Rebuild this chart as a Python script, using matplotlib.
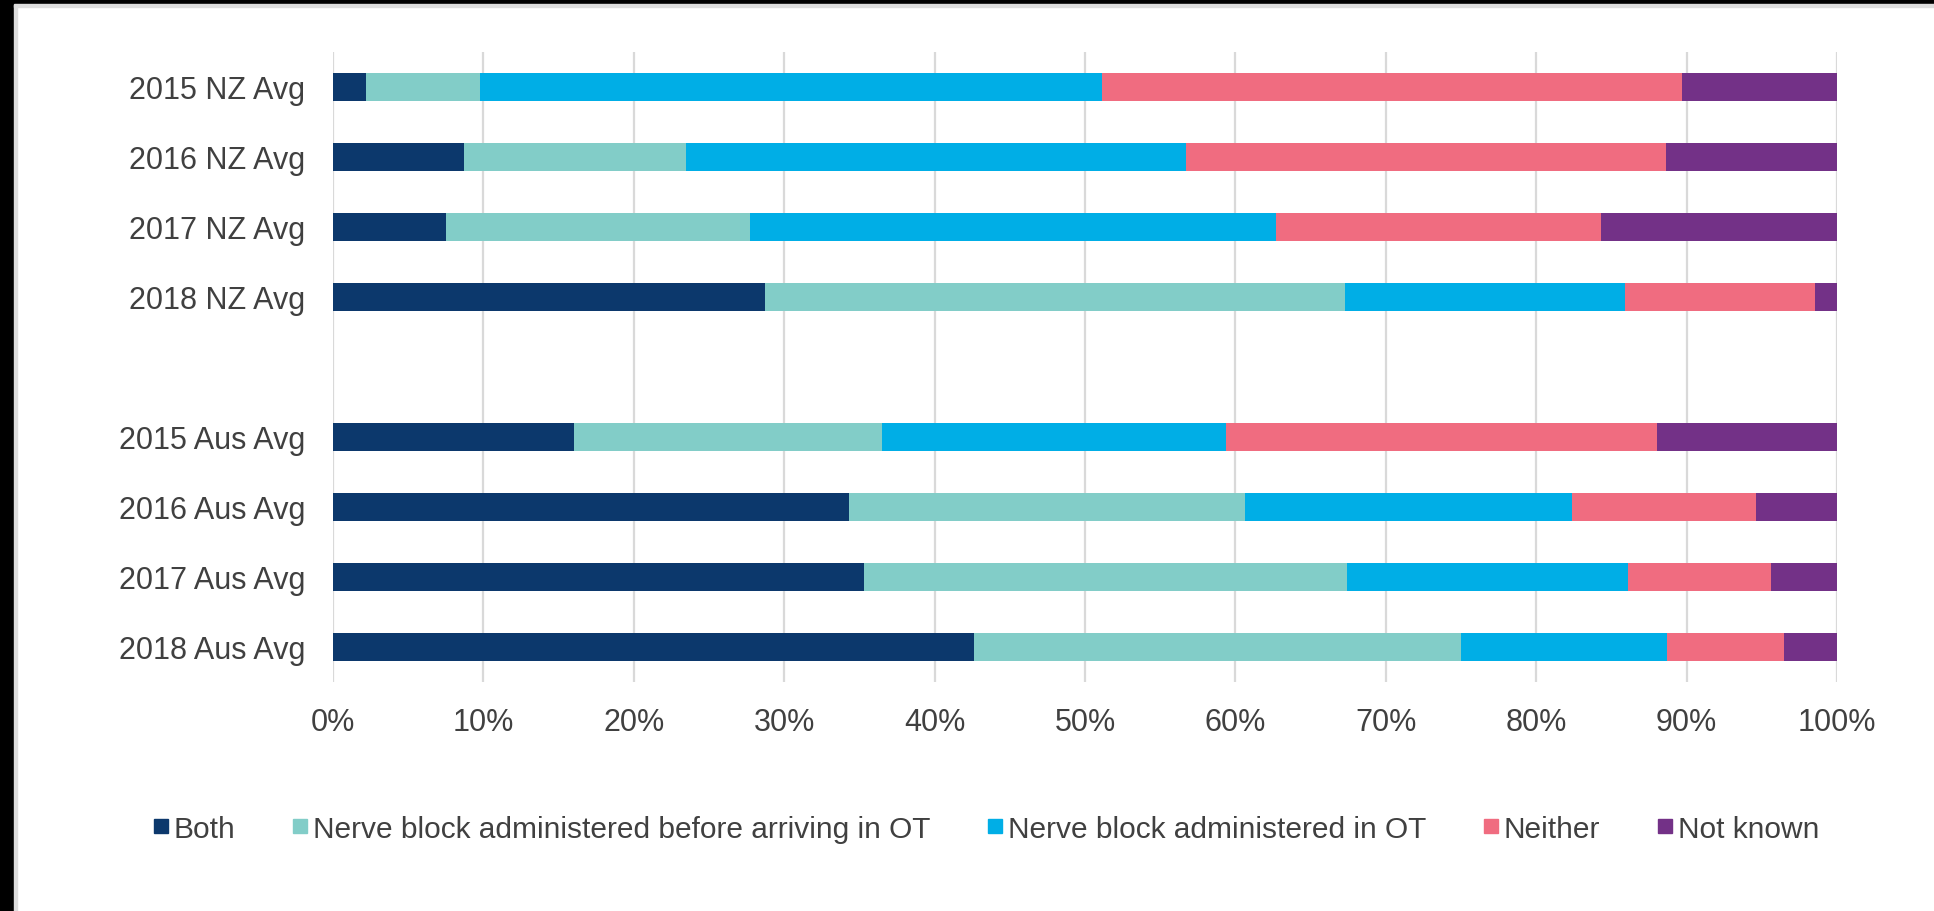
import matplotlib
matplotlib.use("Agg")
import matplotlib.pyplot as plt
from matplotlib.lines import Line2D
from matplotlib.patches import Rectangle

plt.rcParams["font.family"] = ["Liberation Sans", "DejaVu Sans"]

# rows top to bottom, blank row separates NZ and Aus groups
categories = ["2015 NZ Avg", "2016 NZ Avg", "2017 NZ Avg", "2018 NZ Avg", "",
              "2015 Aus Avg", "2016 Aus Avg", "2017 Aus Avg", "2018 Aus Avg"]

series_names = ["Both",
                "Nerve block administered before arriving in OT",
                "Nerve block administered in OT",
                "Neither",
                "Not known"]

both = [2.2, 8.7, 7.5, 28.7, 0, 16.0, 34.3, 35.3, 42.6]
before_ot = [7.6, 14.8, 20.2, 38.6, 0, 20.5, 26.3, 32.1, 32.4]
in_ot = [41.3, 33.2, 35.0, 18.6, 0, 22.9, 21.8, 18.7, 13.7]
neither = [38.6, 31.9, 21.6, 12.6, 0, 28.6, 12.2, 9.5, 7.8]
not_known = [10.3, 11.4, 15.7, 1.5, 0, 12.0, 5.4, 4.4, 3.5]

colors = ["#0c386c", "#82cdc8", "#00aee6", "#f06c80", "#733187"]
text_color = "#404040"

fig = plt.figure(figsize=(19.34, 9.12), dpi=100)
ax = fig.add_axes([0.1722, 0.2511, 0.7777, 0.6908])

ypos = list(range(len(categories)))
left = [0.0] * len(categories)
for name, vals, col in zip(series_names, [both, before_ot, in_ot, neither, not_known], colors):
    ax.barh(ypos, vals, left=left, height=0.4, color=col, label=name, zorder=3)
    left = [l + v for l, v in zip(left, vals)]

ax.set_xlim(0, 100)
ax.set_ylim(8.5, -0.5)
ax.set_yticks(ypos)
ax.set_yticklabels(categories)
ax.set_xticks(range(0, 101, 10))
ax.set_xticklabels([f"{v}%" for v in range(0, 101, 10)])
ax.tick_params(axis="both", length=0, labelsize=22, labelcolor=text_color)
ax.tick_params(axis="y", pad=20)
ax.tick_params(axis="x", pad=18)
ax.grid(axis="x", color="#d9d9d9", linewidth=1.6, zorder=0)
for s in ax.spines.values():
    s.set_visible(False)

handles = [Line2D([], [], marker="s", linestyle="none", markersize=9.5,
                  markerfacecolor=c, markeredgecolor=c) for c in colors]
leg = fig.legend(handles, series_names, loc="center", bbox_to_anchor=(0.51, 0.09),
                 ncol=5, frameon=False, fontsize=21.5, handlelength=0.45,
                 handletextpad=0.2, columnspacing=1.95)
for t in leg.get_texts():
    t.set_color(text_color)

# dark frame strips on top and left edge of the original screenshot
fig.patches.append(Rectangle((0, 0), 0.0072, 1, transform=fig.transFigure,
                             color="black", zorder=10))
fig.patches.append(Rectangle((0.0072, 0), 0.0016, 1, transform=fig.transFigure,
                             color="#dddddd", zorder=10))
fig.patches.append(Rectangle((0, 0.9945), 1, 0.0055, transform=fig.transFigure,
                             color="black", zorder=10))
fig.patches.append(Rectangle((0.0072, 0.9912), 1, 0.0033, transform=fig.transFigure,
                             color="#dddddd", zorder=10))

fig.savefig("out.png", dpi=100)
plt.close(fig)
